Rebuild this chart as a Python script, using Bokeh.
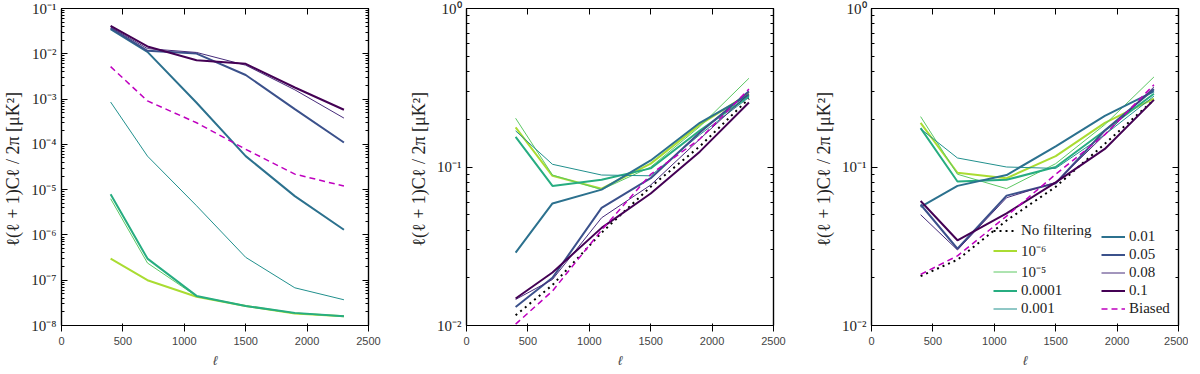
from bokeh.plotting import figure
from bokeh.layouts import row
from bokeh.models import FixedTicker, LogAxis, LinearAxis, Legend, LegendItem
from bokeh.embed import file_html
from bokeh.resources import INLINE

# ---------------- data ----------------
ell = [400, 700, 1100, 1500, 1900, 2300]

names = ["No filtering", "10⁻⁶", "10⁻⁵", "0.0001", "0.001",
         "0.01", "0.05", "0.08", "0.1", "Biased"]

# panel 1 (no "No filtering" curve)
p1_1e6 = [3.0e-7, 1.0e-7, 4.3e-8, 2.7e-8, 1.85e-8, 1.6e-8]
p1_1e5 = [6.3e-6, 2.4e-7, 4.4e-8, 2.7e-8, 1.85e-8, 1.6e-8]
p1_1e4 = [7.9e-6, 3.0e-7, 4.5e-8, 2.7e-8, 1.9e-8, 1.6e-8]
p1_1e3 = [8.6e-4, 5.5e-5, 4.4e-6, 3.2e-7, 6.8e-8, 3.7e-8]
p1_001 = [3.5e-2, 1.1e-2, 8.3e-4, 5.5e-5, 7.2e-6, 1.3e-6]
p1_005 = [3.7e-2, 1.16e-2, 1.01e-2, 3.4e-3, 6.0e-4, 1.1e-4]
p1_008 = [3.9e-2, 1.3e-2, 1.07e-2, 5.6e-3, 1.6e-3, 3.8e-4]
p1_01 = [4.14e-2, 1.45e-2, 7.2e-3, 6.0e-3, 1.8e-3, 5.8e-4]
p1_biased = [5.2e-3, 9.1e-4, 3.0e-4, 7.8e-5, 2.2e-5, 1.2e-5]

# panel 2
p2_nofilt = [0.0116, 0.018, 0.0385, 0.075, 0.135, 0.27]
p2_1e6 = [0.178, 0.088, 0.073, 0.105, 0.185, 0.29]
p2_1e5 = [0.203, 0.089, 0.072, 0.100, 0.180, 0.363]
p2_1e4 = [0.155, 0.076, 0.083, 0.098, 0.170, 0.28]
p2_1e3 = [0.169, 0.104, 0.089, 0.088, 0.160, 0.275]
p2_001 = [0.0288, 0.0589, 0.072, 0.110, 0.190, 0.285]
p2_005 = [0.0131, 0.020, 0.0552, 0.085, 0.165, 0.30]
p2_008 = [0.0146, 0.0195, 0.0478, 0.077, 0.150, 0.29]
p2_01 = [0.0148, 0.0216, 0.0413, 0.068, 0.125, 0.255]
p2_biased = [0.0102, 0.0165, 0.040, 0.090, 0.150, 0.31]

# panel 3
p3_nofilt = [0.0205, 0.026, 0.046, 0.075, 0.140, 0.265]
p3_1e6 = [0.190, 0.092, 0.085, 0.117, 0.190, 0.27]
p3_1e5 = [0.208, 0.090, 0.073, 0.105, 0.185, 0.37]
p3_1e4 = [0.176, 0.081, 0.083, 0.100, 0.170, 0.29]
p3_1e3 = [0.174, 0.114, 0.100, 0.098, 0.160, 0.28]
p3_001 = [0.056, 0.076, 0.089, 0.135, 0.210, 0.30]
p3_005 = [0.058, 0.0305, 0.066, 0.079, 0.170, 0.31]
p3_008 = [0.050, 0.030, 0.064, 0.080, 0.160, 0.32]
p3_01 = [0.061, 0.0345, 0.051, 0.080, 0.130, 0.265]
p3_biased = [0.021, 0.0275, 0.049, 0.090, 0.160, 0.33]

x_ticks = [0, 500, 1000, 1500, 2000, 2500]
p1_yticks = [1e-8, 1e-7, 1e-6, 1e-5, 1e-4, 1e-3, 1e-2, 1e-1]
p1_ylabels = ["10⁻⁸", "10⁻⁷", "10⁻⁶", "10⁻⁵", "10⁻⁴", "10⁻³", "10⁻²", "10⁻¹"]
p23_yticks = [1e-2, 1e-1, 1e0]
p23_ylabels = ["10⁻²", "10⁻¹", "10⁰"]

ylabel = "ℓ(ℓ + 1)Cℓ / 2π  [μK²]"
xlabel = "ℓ"

# ---------------- styles ----------------
colors = ["black", "#aadc32", "#5cc863", "#27ad81", "#21908d",
          "#2c718e", "#3b518b", "#472c7a", "#440154", "#bf00bf"]
widths = [2.0, 2.0, 1.0, 2.0, 1.0, 2.0, 2.0, 1.0, 2.0, 1.5]
dashes = ["2 4", "solid", "solid", "solid", "solid",
          "solid", "solid", "solid", "solid", "6 4"]
FONT = "Liberation Serif"


def minor_ticks(lo, hi):
    out = []
    e = lo
    while e < hi:
        for m in range(2, 10):
            out.append(m * 10.0 ** e)
        e += 1
    return out


def make_panel(series, ylo_exp, yhi_exp, yticks, ylabels, right_border):
    p = figure(frame_width=307, frame_height=317,
               x_range=(0, 2500), y_range=(10.0 ** ylo_exp, 10.0 ** yhi_exp),
               y_axis_type="log", output_backend="svg", toolbar_location=None,
               min_border_left=58, min_border_right=right_border,
               min_border_top=8, min_border_bottom=37)
    p.xgrid.visible = False
    p.ygrid.visible = False
    p.outline_line_color = "black"
    p.outline_line_width = 1.2

    minors = minor_ticks(ylo_exp, yhi_exp)
    p.xaxis.ticker = FixedTicker(ticks=x_ticks)
    p.yaxis.ticker = FixedTicker(ticks=yticks, minor_ticks=minors)
    p.yaxis.major_label_overrides = {t: l for t, l in zip(yticks, ylabels)}
    p.xaxis.axis_label = xlabel
    p.yaxis.axis_label = ylabel

    right = LogAxis(ticker=FixedTicker(ticks=yticks, minor_ticks=minors),
                    major_label_overrides={t: "" for t in yticks})
    top = LinearAxis(ticker=FixedTicker(ticks=x_ticks),
                     major_label_overrides={t: "" for t in x_ticks})
    p.add_layout(right, "right")
    p.add_layout(top, "above")

    for ax in [p.xaxis[0], p.yaxis[0], right, top]:
        ax.major_tick_in = 6
        ax.major_tick_out = 0
        ax.minor_tick_in = 3
        ax.minor_tick_out = 0
        ax.axis_line_color = "black"
        ax.axis_line_width = 1.2
        ax.major_tick_line_color = "black"
        ax.minor_tick_line_color = "black"
        ax.major_label_text_font = FONT
        ax.major_label_text_font_size = "15px"
        ax.major_label_text_color = "#222222"
        ax.axis_label_text_font = FONT
        ax.axis_label_text_font_size = "18px"
        ax.axis_label_text_font_style = "normal"
        ax.axis_label_text_color = "#222222"
    for ax in [p.xaxis[0], top]:
        ax.minor_tick_line_color = None
    for ax in [right, top]:
        ax.major_label_standoff = 0
    p.xaxis[0].major_label_standoff = 4
    p.xaxis[0].axis_label_standoff = 0
    p.xaxis[0].axis_label_text_font_style = "italic"
    p.yaxis[0].major_label_standoff = 5
    p.yaxis[0].axis_label_standoff = 5

    renderers = {}
    for name, vals in series:
        i = names.index(name)
        r = p.line(ell, vals, line_color=colors[i], line_width=widths[i],
                   line_dash=dashes[i])
        renderers[name] = r
    return p, renderers


s1 = [("10⁻⁶", p1_1e6), ("10⁻⁵", p1_1e5), ("0.0001", p1_1e4), ("0.001", p1_1e3),
      ("0.01", p1_001), ("0.05", p1_005), ("0.08", p1_008), ("0.1", p1_01),
      ("Biased", p1_biased)]
s2 = [("No filtering", p2_nofilt), ("10⁻⁶", p2_1e6), ("10⁻⁵", p2_1e5),
      ("0.0001", p2_1e4), ("0.001", p2_1e3), ("0.01", p2_001), ("0.05", p2_005),
      ("0.08", p2_008), ("0.1", p2_01), ("Biased", p2_biased)]
s3 = [("No filtering", p3_nofilt), ("10⁻⁶", p3_1e6), ("10⁻⁵", p3_1e5),
      ("0.0001", p3_1e4), ("0.001", p3_1e3), ("0.01", p3_001), ("0.05", p3_005),
      ("0.08", p3_008), ("0.1", p3_01), ("Biased", p3_biased)]

fig1, _ = make_panel(s1, -8, -1, p1_yticks, p1_ylabels, 38)
fig2, _ = make_panel(s2, -2, 0, p23_yticks, p23_ylabels, 38)
fig3, r3 = make_panel(s3, -2, 0, p23_yticks, p23_ylabels, 10)


def make_legend(labels, loc):
    lg = Legend(items=[LegendItem(label=n, renderers=[r3[n]]) for n in labels],
                location=loc, orientation="vertical")
    lg.label_text_font = FONT
    lg.label_text_font_size = "15px"
    lg.label_text_color = "#222222"
    lg.glyph_width = 24
    lg.glyph_height = 15
    lg.label_height = 15
    lg.label_standoff = 4
    lg.spacing = 1
    lg.padding = 0
    lg.margin = 0
    lg.border_line_color = None
    lg.background_fill_alpha = 0
    return lg


fig3.add_layout(make_legend(names[:5], (122, 8)), "center")
fig3.add_layout(make_legend(names[5:], (230, 8)), "center")

layout = row(fig1, fig2, fig3)
open("out.html", "w").write(file_html(layout, INLINE))
